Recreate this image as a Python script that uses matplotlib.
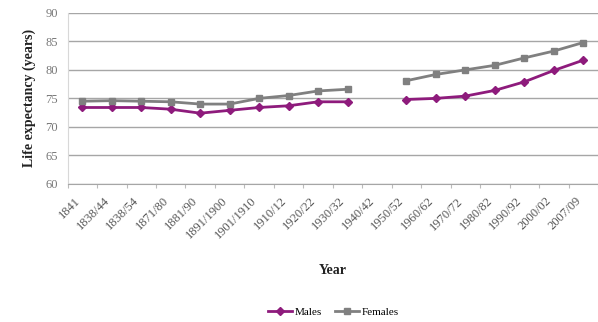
import numpy as np
import matplotlib
matplotlib.use("Agg")
import matplotlib.pyplot as plt

years = ["1841", "1838/44", "1838/54", "1871/80", "1881/90", "1891/1900",
         "1901/1910", "1910/12", "1920/22", "1930/32", "1940/42", "1950/52",
         "1960/62", "1970/72", "1980/82", "1990/92", "2000/02", "2007/09"]

# 1940/42 has no data (gap in both lines)
males = [73.4, 73.4, 73.4, 73.1, 72.4, 72.9, 73.4, 73.7, 74.4, 74.4, np.nan,
         74.8, 75.0, 75.4, 76.4, 77.9, 79.9, 81.7]
females = [74.5, 74.6, 74.5, 74.4, 74.0, 74.0, 75.0, 75.5, 76.3, 76.6, np.nan,
           78.1, 79.2, 80.0, 80.8, 82.1, 83.3, 84.8]

serif = ["Liberation Serif", "DejaVu Serif"]

fig = plt.figure(figsize=(5.98, 3.22), dpi=100)
ax = fig.add_axes([0.113, 0.429, 0.887, 0.531])

x = np.arange(len(years))
ax.plot(x, males, color="#8e1b7c", lw=2.0, marker="D", ms=4.5, label="Males")
ax.plot(x, females, color="#808080", lw=2.0, marker="s", ms=4.5, label="Females")

ax.set_xlim(-0.5, len(years) - 0.5)
ax.set_ylim(60, 90)
ax.set_yticks(range(60, 91, 5))
ax.yaxis.grid(True, color="#a6a6a6", lw=1.0)
ax.set_axisbelow(True)

# category ticks sit between the labels, like the spreadsheet original
ax.set_xticks(np.arange(len(years) + 1) - 0.5, minor=False)
ax.set_xticklabels([])
ax.set_xticks(x, minor=True)
ax.set_xticklabels(years, minor=True, rotation=45, ha="right", va="top",
                   family=serif, fontsize=9, color="#555555")
ax.tick_params(axis="x", which="major", length=3, color="#bbbbbb")
ax.tick_params(axis="x", which="minor", length=0, pad=8)
ax.tick_params(axis="y", length=0, pad=7, labelsize=9, colors="#777777")
for lab in ax.get_yticklabels():
    lab.set_family(serif)

for side in ["top", "right"]:
    ax.spines[side].set_visible(False)
ax.spines["left"].set_color("#d8d8d8")
ax.spines["bottom"].set_color("#a6a6a6")

ax.set_ylabel("Life expectancy (years)", family=serif, fontsize=10,
              fontweight="bold", labelpad=7, color="#222222")
fig.text(0.557, 0.16, "Year", family=serif, fontsize=10, fontweight="bold",
         ha="center", va="center", color="#222222")

fig.legend(loc="center", bbox_to_anchor=(0.557, 0.03), ncol=2,
           frameon=False, prop={"family": serif, "size": 8},
           handlelength=2.2, columnspacing=1.2, handletextpad=0.2)

fig.savefig("out.png", dpi=100)
